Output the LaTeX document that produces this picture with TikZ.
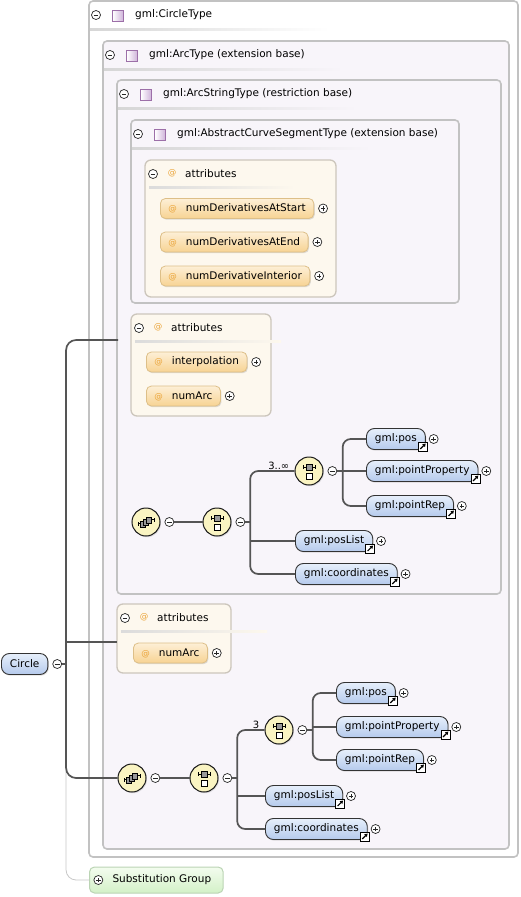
\documentclass[tikz,border=0pt]{standalone}
\usepackage{fontspec}
\setmainfont{DejaVu Sans}
\usetikzlibrary{positioning}
\usetikzlibrary{calc}
\usetikzlibrary{shadows}
\usetikzlibrary{arrows.meta}

\definecolor{boxline}{HTML}{C2C2C2}
\definecolor{lavender}{HTML}{F8F5FA}
\definecolor{attrbg}{HTML}{FDF8EE}
\definecolor{attrline}{HTML}{CCC6BC}
\definecolor{attrtop}{HTML}{FDEFD6}
\definecolor{attrbot}{HTML}{F7D393}
\definecolor{attredge}{HTML}{DDBF88}
\definecolor{atsign}{HTML}{EBA53A}
\definecolor{elemtop}{HTML}{E6EFFB}
\definecolor{elembot}{HTML}{B5CAEC}
\definecolor{compfill}{HTML}{FAF4C2}
\definecolor{iconline}{HTML}{9C6FA8}
\definecolor{iconfill}{HTML}{CFB3DA}
\definecolor{conncol}{HTML}{555555}
\definecolor{substtop}{HTML}{F3FCEF}
\definecolor{substbot}{HTML}{D3F1C7}
\definecolor{substline}{HTML}{BBD4B4}

\tikzset{
	typeframe/.style={draw=boxline, line width=1.6pt, rounded corners=4pt},
	attrframe/.style={draw=attrline, line width=1.3pt, fill=attrbg, rounded corners=6pt},
	minusbtn/.style={circle, draw=black!85, line width=0.7pt, fill=white, minimum size=9pt, inner sep=0pt,
		path picture={\draw[line width=0.7pt] ([xshift=-2.3pt]path picture bounding box.center) -- ([xshift=2.3pt]path picture bounding box.center);}},
	plusbtn/.style={circle, draw=black!85, line width=0.7pt, fill=white, minimum size=9pt, inner sep=0pt,
		path picture={\draw[line width=0.7pt] ([xshift=-2.3pt]path picture bounding box.center) -- ([xshift=2.3pt]path picture bounding box.center);
			\draw[line width=0.7pt] ([yshift=-2.3pt]path picture bounding box.center) -- ([yshift=2.3pt]path picture bounding box.center);}},
	typeicon/.style={rectangle, draw=iconline, line width=0.8pt, minimum size=10.5pt, inner sep=0pt, left color=white, right color=iconfill},
	softshadow/.style={drop shadow={shadow xshift=1pt, shadow yshift=-1.2pt, opacity=0.25}},
	attr/.style={draw=attredge, line width=0.8pt, rounded corners=5pt, top color=attrtop, bottom color=attrbot,
		minimum height=20pt, inner xsep=8pt, inner ysep=0pt, anchor=west, softshadow},
	elem/.style={draw=black!80, line width=0.9pt, rounded corners=8pt, top color=elemtop, bottom color=elembot,
		minimum height=21pt, inner xsep=8.5pt, inner ysep=0pt, anchor=west, softshadow},
	comp/.style={circle, draw=black!90, line width=1pt, minimum size=28pt, inner sep=0pt, fill=compfill, softshadow},
	linkicon/.style={rectangle, draw=black, line width=0.7pt, fill=white, minimum size=9pt, inner sep=0pt,
		path picture={\draw[line width=1.2pt, -{Triangle[length=3pt,width=3.6pt]}] ([shift={(2pt,2pt)}]path picture bounding box.south west) -- ([shift={(-1.6pt,-1.6pt)}]path picture bounding box.north east);}},
	occurs/.style={inner sep=0pt, font=\fontsize{10}{12}\selectfont},
	conn/.style={draw=conncol, line width=1.7pt, rounded corners=8pt},
	subline/.style={draw=black!22, line width=0.8pt, rounded corners=10pt},
	subst/.style={draw=substline, line width=1pt, rounded corners=5pt, top color=substtop, bottom color=substbot,
		minimum height=26pt, inner xsep=12pt, inner ysep=0pt, anchor=west}
}

\newcommand{\atmark}{{\fontsize{8.5}{10}\selectfont\color{atsign}@}}

\newcommand{\typebox}[7][lavender] % fill, name, left, top, right, bottom (px), title
{
	% frame
	\draw[typeframe, fill=#1] (#3,#4) rectangle (#5,#6);
	% header rule
	\shade[left color=black!16, right color=#1] (#3+1,#4+27) rectangle (#3+240,#4+29);
	% header
	\node[minusbtn] (#2-m) at (#3+7,#4+14) {};
	\node[typeicon] (#2-i) at (#3+29,#4+15) {};
	\node[anchor=west, inner sep=0pt] (#2-t) at (#3+46,#4+14) {#7};
}

\newcommand{\attrbox}[5] % name, left, top, right, bottom (px)
{
	% frame
	\draw[attrframe] (#2,#3) rectangle (#4,#5);
	% header rule
	\shade[left color=black!14, right color=attrbg] (#2+4,#3+26) rectangle (#2+150,#3+28);
	% header
	\node[minusbtn] (#1-m) at (#2+8,#3+14) {};
	\node[inner sep=0pt] (#1-at) at (#2+27,#3+13) {\atmark};
	\node[anchor=west, inner sep=0pt] (#1-t) at (#2+40,#3+14) {attributes};
}

\newcommand{\elemend}[1] % link icon and expand button of element #1
{
	\node[linkicon] (#1-l) at ($(#1.south east)+(-3pt,3.5pt)$) {};
	\node[plusbtn, right=3pt of #1] (#1-p) {};
}

\newcommand{\seqicon}[1] % sequence glyph inside compositor #1
{
	% bar with end ticks
	\draw[line width=0.6pt] ($(#1)+(-6pt,4pt)$) -- ($(#1)+(6pt,4pt)$);
	\draw[line width=0.6pt] ($(#1)+(-6pt,2pt)$) -- ($(#1)+(-6pt,6pt)$);
	\draw[line width=0.6pt] ($(#1)+(6pt,2pt)$) -- ($(#1)+(6pt,6pt)$);
	% filled and empty particles
	\draw[fill=black!40, line width=0.5pt] ($(#1)+(-3pt,1pt)$) rectangle ($(#1)+(3pt,7pt)$);
	\draw[fill=white, line width=0.6pt] ($(#1)+(-3pt,-2pt)$) rectangle ($(#1)+(3pt,-8pt)$);
}

\newcommand{\stackicon}[1] % overlapping particles inside compositor #1
{
	% end ticks
	\draw[line width=0.6pt] ($(#1)+(-8pt,-1.5pt)$) -- ($(#1)+(-5pt,-1.5pt)$);
	\draw[line width=0.6pt] ($(#1)+(-8pt,-3.5pt)$) -- ($(#1)+(-8pt,0.5pt)$);
	\draw[line width=0.6pt] ($(#1)+(5pt,2.5pt)$) -- ($(#1)+(8pt,2.5pt)$);
	\draw[line width=0.6pt] ($(#1)+(8pt,0.5pt)$) -- ($(#1)+(8pt,4.5pt)$);
	% particles
	\draw[fill=black!40, line width=0.5pt] ($(#1)+(-6pt,-5pt)$) rectangle ($(#1)+(-0.5pt,0.5pt)$);
	\draw[fill=black!40, line width=0.5pt] ($(#1)+(-3pt,-3pt)$) rectangle ($(#1)+(2.5pt,2.5pt)$);
	\draw[fill=black!40, line width=0.5pt] ($(#1)+(0pt,-1pt)$) rectangle ($(#1)+(5.5pt,4.5pt)$);
}

\begin{document}
\begin{tikzpicture}[x=1pt, y=-1pt, font=\fontsize{10.5}{12.6}\selectfont]
	% canvas: 520 x 897 px, y grows downwards
	\useasboundingbox (0,0) rectangle (520,897);

	% nested complex types
	\typebox[white]{tCircle}{89}{1}{518}{857}{gml:CircleType}
	\typebox{tArc}{103}{41}{509}{849}{gml:ArcType (extension base)}
	\typebox{tArcStr}{117}{80}{501}{594}{gml:ArcStringType (restriction base)}
	\typebox{tCurve}{131}{120}{459}{303}{gml:AbstractCurveSegmentType (extension base)}

	% attributes of the curve segment
	\attrbox{aCurve}{145}{160}{336}{297}
	\node[attr] (numDerivativesAtStart) at (160,208.5) {\atmark\hspace{9pt}numDerivativesAtStart};
	\node[plusbtn, right=4pt of numDerivativesAtStart] (numDerivativesAtStart-p) {};
	\node[attr] (numDerivativesAtEnd) at (160,242) {\atmark\hspace{9pt}numDerivativesAtEnd};
	\node[plusbtn, right=4pt of numDerivativesAtEnd] (numDerivativesAtEnd-p) {};
	\node[attr] (numDerivativeInterior) at (160,276) {\atmark\hspace{9pt}numDerivativeInterior};
	\node[plusbtn, right=4pt of numDerivativeInterior] (numDerivativeInterior-p) {};

	% attributes of the arc string
	\attrbox{aArcStr}{131}{314}{271}{416}
	\node[attr] (interpolation) at (146,362) {\atmark\hspace{9pt}interpolation};
	\node[plusbtn, right=4pt of interpolation] (interpolation-p) {};
	\node[attr] (numArcA) at (146,396) {\atmark\hspace{9pt}numArc};
	\node[plusbtn, right=4pt of numArcA] (numArcA-p) {};

	% attributes of the arc
	\attrbox{aArc}{117}{604}{231}{673}
	\node[attr] (numArcB) at (133,653) {\atmark\hspace{9pt}numArc};
	\node[plusbtn, right=4pt of numArcB] (numArcB-p) {};

	% content model of the arc string
	\node[comp] (sA1) at (146,522) {};
	\stackicon{sA1}
	\node[minusbtn, right=4pt of sA1] (sA1-m) {};
	\node[comp] (sA2) at (217,522) {};
	\seqicon{sA2}
	\node[minusbtn, right=4pt of sA2] (sA2-m) {};
	\node[comp] (sA3) at (309,471) {};
	\seqicon{sA3}
	\node[minusbtn, right=4pt of sA3] (sA3-m) {};
	\node[occurs, anchor=south east] (sA3-o) at ($(sA3.west)+(-5pt,1.5pt)$) {3..∞};

	\node[elem] (posA) at (366,439) {gml:pos};
	\elemend{posA}
	\node[elem] (pointPropertyA) at (366,471) {gml:pointProperty};
	\elemend{pointPropertyA}
	\node[elem] (pointRepA) at (366,506) {gml:pointRep};
	\elemend{pointRepA}
	\node[elem] (posListA) at (295,541) {gml:posList};
	\elemend{posListA}
	\node[elem] (coordinatesA) at (295,574) {gml:coordinates};
	\elemend{coordinatesA}

	\coordinate (busA) at ($(sA2-m.east)+(5pt,0pt)$);
	\coordinate (busA2) at ($(sA3-m.east)+(5.5pt,0pt)$);
	\draw[conn] (sA1-m) -- (sA2);
	\draw[conn] (sA2-m) -- (busA);
	\draw[conn] (sA3) -| (busA) |- (coordinatesA);
	\draw[conn] (busA |- posListA.west) -- (posListA);
	\draw[conn] (sA3-m) -- (busA2);
	\draw[conn] (posA) -| (busA2) |- (pointRepA);
	\draw[conn] (busA2 |- pointPropertyA.west) -- (pointPropertyA);

	% content model of the arc
	\node[comp] (sB1) at (132,778) {};
	\stackicon{sB1}
	\node[minusbtn, right=4pt of sB1] (sB1-m) {};
	\node[comp] (sB2) at (204,778) {};
	\seqicon{sB2}
	\node[minusbtn, right=4pt of sB2] (sB2-m) {};
	\node[comp] (sB3) at (279,730) {};
	\seqicon{sB3}
	\node[minusbtn, right=4pt of sB3] (sB3-m) {};
	\node[occurs, anchor=south east] (sB3-o) at ($(sB3.west)+(-5pt,1.5pt)$) {3};

	\node[elem] (posB) at (336,693) {gml:pos};
	\elemend{posB}
	\node[elem] (pointPropertyB) at (336,727) {gml:pointProperty};
	\elemend{pointPropertyB}
	\node[elem] (pointRepB) at (336,760) {gml:pointRep};
	\elemend{pointRepB}
	\node[elem] (posListB) at (265,796) {gml:posList};
	\elemend{posListB}
	\node[elem] (coordinatesB) at (265,829) {gml:coordinates};
	\elemend{coordinatesB}

	\coordinate (busB) at ($(sB2-m.east)+(5pt,0pt)$);
	\coordinate (busB2) at ($(sB3-m.east)+(5.5pt,0pt)$);
	\draw[conn] (sB1-m) -- (sB2);
	\draw[conn] (sB2-m) -- (busB);
	\draw[conn] (sB3) -| (busB) |- (coordinatesB);
	\draw[conn] (busB |- posListB.west) -- (posListB);
	\draw[conn] (sB3-m) -- (busB2);
	\draw[conn] (posB) -| (busB2) |- (pointRepB);
	\draw[conn] (busB2 |- pointPropertyB.west) -- (pointPropertyB);

	% root element and its substitution group
	\node[elem] (circle) at (1,664) {Circle};
	\node[minusbtn, right=4pt of circle] (circle-m) {};
	\node[subst] (subst) at (89,880) {\hspace{11pt}Substitution Group};
	\node[plusbtn, right=4.5pt of subst.west] (subst-p) {};

	\coordinate (trunk) at ($(circle-m.east)+(4pt,0pt)$);
	\coordinate (arcStrEdge) at (118,340);
	\coordinate (attrEdge) at (117,642);
	\draw[subline] (trunk) |- (subst);
	\draw[conn] (circle-m) -- (trunk);
	\draw[conn, rounded corners=10pt] (arcStrEdge) -| (trunk) |- (sB1);
	\draw[conn] (trunk |- attrEdge) -- (attrEdge);
\end{tikzpicture}
\end{document}
